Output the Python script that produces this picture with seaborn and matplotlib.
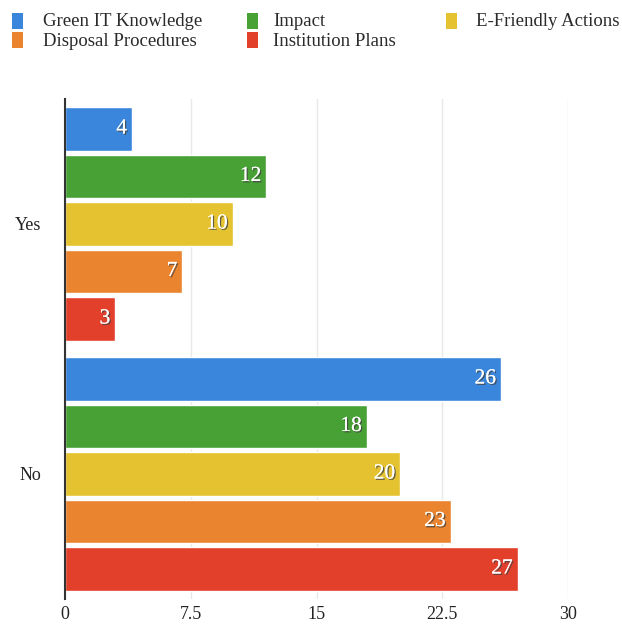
import matplotlib
matplotlib.use("Agg")
import matplotlib.pyplot as plt
import matplotlib.patheffects as pe
from matplotlib.patches import Rectangle
import seaborn as sns
import pandas as pd

answers = ["Yes", "No"]
series = ["Green IT Knowledge", "Impact", "E-Friendly Actions",
          "Disposal Procedures", "Institution Plans"]
yes_values = [4, 12, 10, 7, 3]
no_values = [26, 18, 20, 23, 27]
colors = ["#3a86dc", "#48a135", "#e5c330", "#ea842f", "#e3402c"]
xticks = [0, 7.5, 15, 22.5, 30]
xtick_labels = ["0", "7.5", "15", "22.5", "30"]

rows = []
for s, v in zip(series, yes_values):
    rows.append({"answer": "Yes", "series": s, "value": v})
for s, v in zip(series, no_values):
    rows.append({"answer": "No", "series": s, "value": v})
df = pd.DataFrame(rows)

sns.set_style("white")
plt.rcParams["font.family"] = ["Liberation Serif", "DejaVu Serif"]

W, H = 622, 626
fig = plt.figure(figsize=(6.22, 6.26), dpi=100)
ax = fig.add_axes([65 / W, 27 / H, 503 / W, 500 / H])

sns.barplot(data=df, y="answer", x="value", hue="series", orient="h",
            order=answers, hue_order=series, palette=colors,
            width=0.95, gap=0.085, saturation=1, ax=ax, legend=False)

for cont in ax.containers:
    for p in cont.patches:
        w = p.get_width()
        y = p.get_y() + p.get_height() / 2
        ax.text(w - 0.3, y, f"{w:g}", ha="right", va="center",
                color="white", fontsize=15.5,
                path_effects=[pe.withSimplePatchShadow(offset=(1, -1), shadow_rgbFace="#444444", alpha=0.8), pe.Normal()])

ax.set_xlim(0, 30)
ax.set_ylim(1.5, -0.5)
ax.set_xticks(xticks)
ax.set_xticklabels(xtick_labels, fontsize=13)
ax.tick_params(axis="both", length=0, labelsize=13, colors="#222222")
ax.tick_params(axis="x", pad=5)
ax.tick_params(axis="y", pad=17)
ax.set_xlabel("")
ax.set_ylabel("")
ax.xaxis.grid(True, color="#e8e8e8", linewidth=1)
ax.set_axisbelow(True)
for side in ["top", "right", "bottom"]:
    ax.spines[side].set_visible(False)
ax.spines["left"].set_color("#333333")
ax.spines["left"].set_linewidth(1.5)

# legend laid out like the reference: 3 columns, 2 rows (pixel coords from top-left)
entries = [(0, 0, 0), (1, 1, 0), (2, 2, 0), (3, 0, 1), (4, 1, 1)]  # (series idx, col, row)
col_marker = [12, 247, 446]
col_text = [43, 273, 476]
rows_y = [21, 40]
for idx, col, r in entries:
    yc = rows_y[r]
    fig.add_artist(Rectangle((col_marker[col] / W, 1 - (yc + 7.5) / H), 11 / W, 15 / H,
                             transform=fig.transFigure, facecolor=colors[idx],
                             edgecolor="none"))
    fig.text(col_text[col] / W, 1 - (yc + 1) / H, series[idx], ha="left", va="center",
             fontsize=13.5, color="#2a2a2a")

fig.savefig("out.png", dpi=100)
